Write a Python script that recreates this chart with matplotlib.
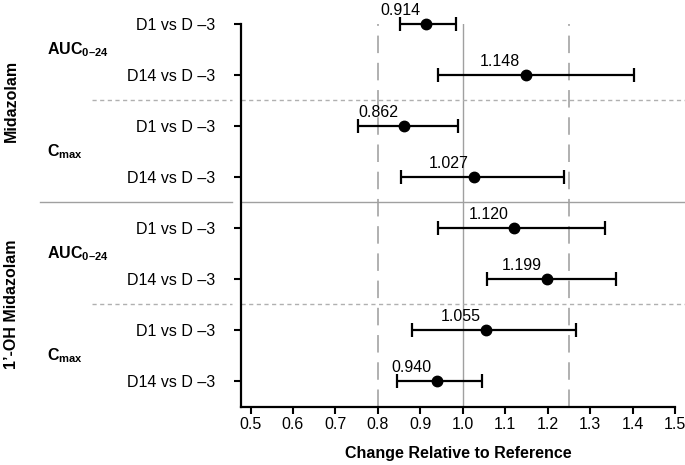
import numpy as np
import matplotlib
matplotlib.use("Agg")
import matplotlib.pyplot as plt

plt.rcParams['font.family'] = ['Liberation Sans', 'DejaVu Sans']
plt.rcParams['mathtext.fontset'] = 'custom'
plt.rcParams['mathtext.rm'] = 'Liberation Sans'
plt.rcParams['mathtext.bf'] = 'Liberation Sans:bold'

# data (geometric mean ratio with 90% CI)
row_labels = ["D1 vs D –3", "D14 vs D –3"] * 4
ratios = [0.914, 1.148, 0.862, 1.027, 1.120, 1.199, 1.055, 0.940]
ci_low = [0.851, 0.941, 0.754, 0.854, 0.941, 1.057, 0.880, 0.846]
ci_high = [0.985, 1.404, 0.988, 1.238, 1.334, 1.360, 1.267, 1.045]
params = ["$\\mathbf{AUC}_{\\mathbf{0–24}}$", "$\\mathbf{C}_{\\mathbf{max}}$"] * 2
compounds = ["Midazolam", "1’-OH Midazolam"]
xticks = np.arange(0.5, 1.51, 0.1)

fig = plt.figure(figsize=(6.85, 4.65), dpi=100)
ax = fig.add_axes([241/685, 1-407/465, 434/685, 383/465])

y = np.arange(len(ratios))
ratios = np.array(ratios)
err = [ratios - np.array(ci_low), np.array(ci_high) - ratios]

# reference lines
ax.axvline(1.0, color="#a0a0a0", lw=1.0, zorder=1)
for v in [0.8, 1.25]:
    ax.axvline(v, color="#b0b0b0", lw=1.4, dashes=(9, 5), zorder=1)

ax.errorbar(ratios, y, xerr=err, fmt="o", color="black", ms=7.5, lw=1.6,
            capsize=5, capthick=1.6, clip_on=False, zorder=3)

for xi, yi in zip(ratios, y):
    ax.annotate(f"{xi:.3f}", (xi, yi), xytext=(-4, 6.5), textcoords="offset points",
                ha="right", va="baseline", fontsize=11.5)

# separators
tr = ax.get_yaxis_transform()
for seg in [(-0.463, -0.02), (0, 1.023)]:
    ax.plot(seg, [3.5, 3.5], transform=tr, color="#a0a0a0", lw=1.0, clip_on=False)
for yy in [1.5, 5.5]:
    for seg in [(-0.344, -0.02), (0, 1.023)]:
        ax.plot(seg, [yy, yy], transform=tr, color="#b0b0b0", lw=1.0,
                ls=(0, (3, 2.5)), clip_on=False)

for i, p in enumerate(params):
    ax.text(-0.447, 2*i + 0.5, p, transform=tr, ha="left", va="center", fontsize=11.5)
for i, c in enumerate(compounds):
    ax.text(-0.528, 4*i + 1.5, c, transform=tr, ha="center", va="center",
            rotation=90, fontsize=11.5, fontweight="bold")

ax.set_yticks(y)
ax.set_yticklabels(row_labels, fontsize=11.5)
ax.set_xticks(xticks)
ax.set_xticklabels([f"{t:.1f}" for t in xticks], fontsize=11.5)
ax.set_xlim(0.4776, 1.5)
ax.set_ylim(7.51, 0)
ax.tick_params(axis="y", length=5, width=1.5, pad=13.5)
ax.tick_params(axis="x", length=5, width=1.5, pad=2)
for s in ["top", "right"]:
    ax.spines[s].set_visible(False)
for s in ["left", "bottom"]:
    ax.spines[s].set_linewidth(1.6)
ax.set_xlabel("Change Relative to Reference", fontsize=11.5, fontweight="bold", labelpad=10)

fig.savefig("out.png", dpi=100)
